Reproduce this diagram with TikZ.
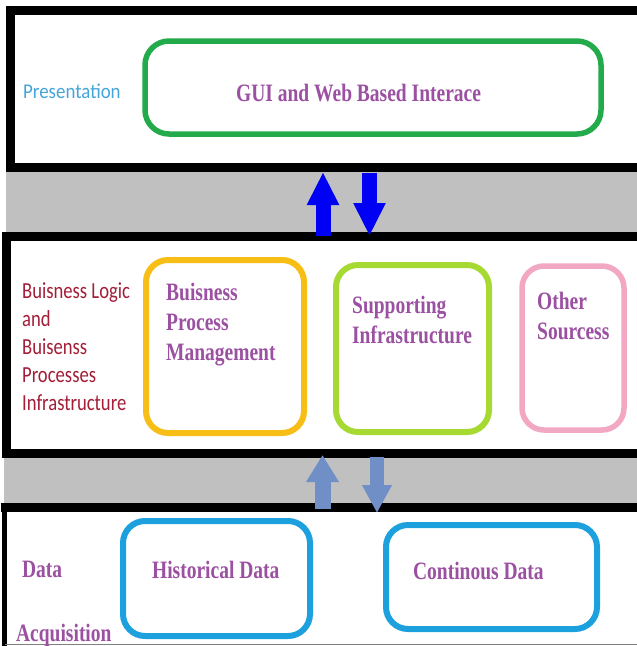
\documentclass[tikz,border=0pt]{standalone}
\usepackage{fontspec}
\setmainfont{Liberation Serif}
\newfontfamily\calfont{Carlito}
\usetikzlibrary{arrows.meta}
\definecolor{bandgray}{RGB}{192,192,192}
\definecolor{guigreen}{RGB}{34,170,75}
\definecolor{bpmyellow}{RGB}{247,190,22}
\definecolor{limegreen}{RGB}{166,217,50}
\definecolor{softpink}{RGB}{242,167,195}
\definecolor{skyblue}{RGB}{28,160,222}
\definecolor{purp}{RGB}{155,80,162}
\definecolor{darkred}{RGB}{163,30,55}
\definecolor{presblue}{RGB}{69,165,218}
\definecolor{brightblue}{RGB}{0,0,245}
\definecolor{steelblue}{RGB}{111,143,198}
\tikzset{
  panel/.style={draw=black, fill=white, line width=9pt, inner sep=0pt},
  rbox/.style={draw, line width=6pt, rounded corners=22pt, inner sep=0pt},
  purptext/.style={text=purp, font=\fontsize{25}{30}\selectfont\bfseries, xscale=0.78, anchor=base west, inner sep=0pt},
  redtext/.style={text=darkred, font=\calfont\fontsize{23}{27}\selectfont, xscale=0.81, anchor=base west, inner sep=0pt},
  fatarrow/.style={line width=15pt, -{Triangle[width=30pt,length=33pt]}},
}
\begin{document}
\begin{tikzpicture}[x=1pt,y=-1pt]
\useasboundingbox (0,0) rectangle (637,646);
\clip (0,0) rectangle (637,646);
\fill[white] (0,0) rectangle (637,646);
% gray bands
\fill[bandgray] (6,167) rectangle (640,236);
\fill[bandgray] (4,453) rectangle (640,507);
% panels
\node[panel, minimum width=635pt, minimum height=157pt] (pres) at (327.5,89) {};
\node[panel, minimum width=638.5pt, minimum height=217pt] (logic) at (325.75,344.5) {};
\fill[white] (5,507.5) rectangle (640,646);
\draw[line width=9pt] (0.5,507.5) -- (645,507.5);
\draw[line width=5pt] (4.5,507.5) -- (4.5,650);
\draw[line width=1pt, gray] (4.5,644) -- (640,644);
% presentation layer
\node[text=presblue, font=\calfont\fontsize{21}{25}\selectfont, xscale=0.9, anchor=base west, inner sep=0pt] (prestxt) at (23,98) {Presentation};
\node[rbox, draw=guigreen, line width=5.5pt, rounded corners=24pt, minimum width=456pt, minimum height=93pt] (gui) at (373,87.5) {};
\node[purptext] (guitxt) at (236,101) {GUI and Web Based Interace};
% business layer
\node[redtext] (bl1) at (22,298) {Buisness Logic};
\node[redtext] (bl2) at (22,326) {and};
\node[redtext] (bl3) at (22,354) {Buisenss};
\node[redtext] (bl4) at (22,382) {Processes};
\node[redtext] (bl5) at (22,410) {Infrastructure};
\node[rbox, draw=bpmyellow, minimum width=158pt, minimum height=173pt] (bpm) at (225,346.5) {};
\node[rbox, draw=limegreen, minimum width=153pt, minimum height=167pt] (sup) at (412.5,348.5) {};
\node[rbox, draw=softpink, line width=5.5pt, minimum width=102pt, minimum height=164pt] (oth) at (573,348) {};
\node[purptext] (bpm1) at (166,300) {Buisness};
\node[purptext] (bpm2) at (166,330) {Process};
\node[purptext] (bpm3) at (166,360) {Management};
\node[purptext] (sup1) at (352,313) {Supporting};
\node[purptext] (sup2) at (352,343) {Infrastructure};
\node[purptext] (oth1) at (537,309) {Other};
\node[purptext] (oth2) at (537,339) {Sourcess};
% data layer
\node[purptext] (da1) at (22,577) {Data};
\node[purptext] (da2) at (16,641) {Acquisition};
\node[rbox, draw=skyblue, minimum width=187pt, minimum height=115pt] (hist) at (216.5,578.5) {};
\node[rbox, draw=skyblue, minimum width=211pt, minimum height=104pt] (cont) at (491.5,577) {};
\node[purptext] (histtxt) at (152,578) {Historical Data};
\node[purptext] (conttxt) at (413,579) {Continous Data};
% arrows
\coordinate (a1s) at (323,236);
\coordinate (a1e) at (323,172);
\coordinate (a2s) at (369.5,173);
\coordinate (a2e) at (369.5,236);
\coordinate (a3s) at (322.5,509);
\coordinate (a3e) at (322.5,455);
\coordinate (a4s) at (377,457);
\coordinate (a4e) at (377,513);
\draw[fatarrow, brightblue] (a1s) -- (a1e);
\draw[fatarrow, brightblue] (a2s) -- (a2e);
\draw[fatarrow, steelblue, line width=16pt, -{Triangle[width=31pt,length=27pt]}] (a3s) -- (a3e);
\draw[fatarrow, steelblue, line width=14pt, -{Triangle[width=28pt,length=28pt]}] (a4s) -- (a4e);
\end{tikzpicture}
\end{document}
